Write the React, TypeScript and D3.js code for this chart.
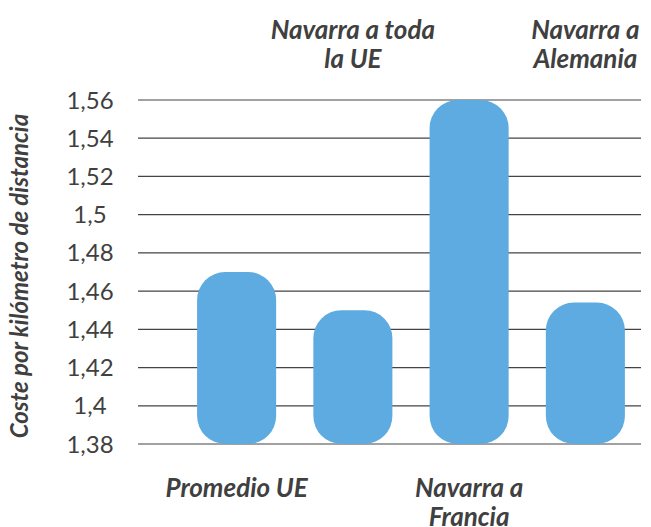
import React from "react";
import * as d3 from "d3";

const categories = ["Promedio UE", "Navarra a toda la UE", "Navarra a Francia", "Navarra a Alemania"];
const labelLines = [["Promedio UE"], ["Navarra a toda", "la UE"], ["Navarra a", "Francia"], ["Navarra a", "Alemania"]];
const values = [1.47, 1.45, 1.56, 1.454];
const yTicks = [1.38, 1.4, 1.42, 1.44, 1.46, 1.48, 1.5, 1.52, 1.54, 1.56];
const yTitle = "Coste por kilómetro de distancia";

const W = 651, H = 527;
const FONT = "Lato, 'Open Sans', sans-serif";

export default function App() {
  const x = d3.scaleBand<string>().domain(categories).range([178.5, 643.5]).paddingInner(0.32).paddingOuter(0.16);
  const y = d3.scaleLinear().domain([1.38, 1.56]).range([444, 100]);
  const loc = d3.formatLocale({ decimal: ",", thousands: ".", grouping: [3], currency: ["", "€"] });
  const fmt = (v: number) => loc.format("~g")(+v.toFixed(2));
  const bw = x.bandwidth();
  const r = 28;
  return (
    <svg width={W} height={H} style={{ position: "absolute", left: 0, top: 0, background: "#fff" }}>
      {yTicks.map((t) => (
        <g key={t}>
          <line x1={138} x2={641} y1={y(t)} y2={y(t)} stroke="#444" strokeWidth={1.2} />
          <text x={90} y={y(t) + 8.5} textAnchor="middle" fontFamily={FONT} fontSize={24} fill="#404040">
            {fmt(t)}
          </text>
        </g>
      ))}
      {categories.map((c, i) => {
        const x0 = x(c)!;
        const y0 = y(values[i]);
        const h = y(1.38) - y0;
        return <rect key={c} x={x0} y={y0} width={bw} height={h} rx={r} ry={r} fill="#5dabe0" />;
      })}
      {categories.map((c, i) => {
        const cx = x(c)! + bw / 2;
        const lines = labelLines[i];
        const top = i % 2 === 1;
        const base = top ? 39 : 497;
        return (
          <text key={c} textAnchor="middle" fontFamily={FONT} fontSize={26} fontWeight="bold" fontStyle="italic" fill="#404040">
            {lines.map((l, j) => (
              <tspan key={j} x={cx} y={base + j * 29}>{l}</tspan>
            ))}
          </text>
        );
      })}
      <text transform={`translate(28,276) rotate(-90)`} textAnchor="middle" fontFamily={FONT} fontSize={24} fontWeight="bold" fontStyle="italic" fill="#404040">
        {yTitle}
      </text>
    </svg>
  );
}
